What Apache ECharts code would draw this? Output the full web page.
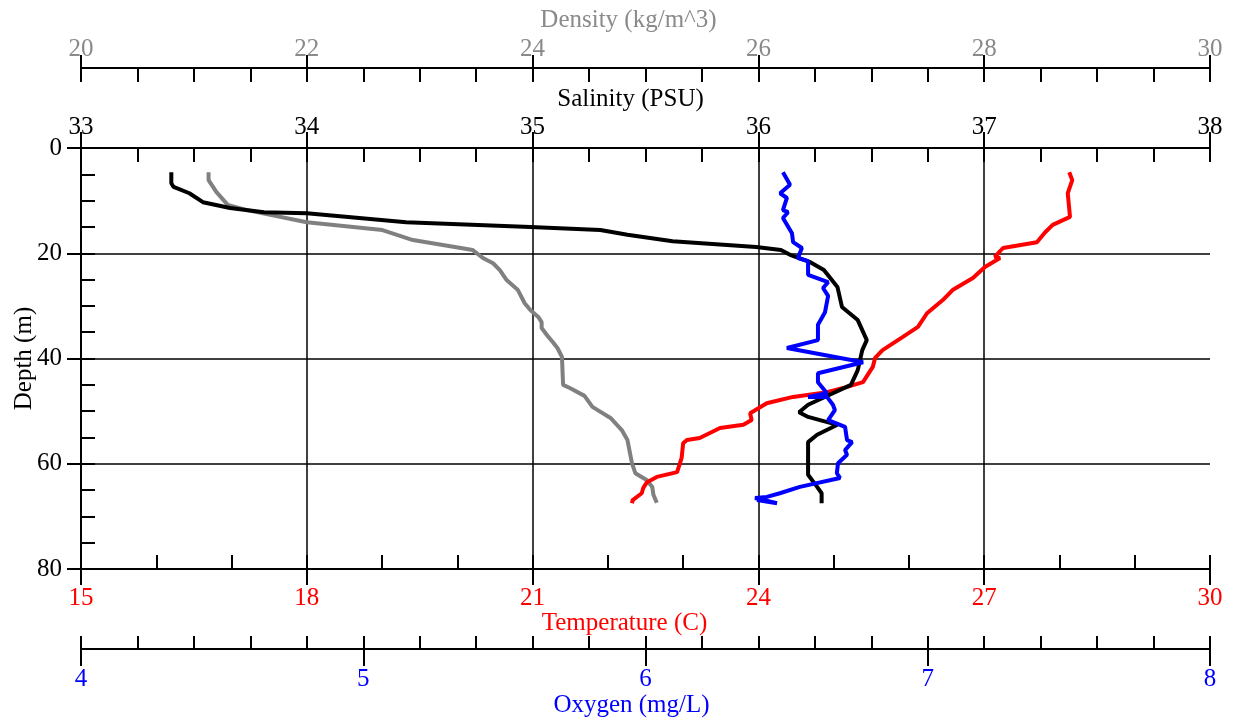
<!DOCTYPE html>
<html>
<head>
<meta charset="utf-8">
<title>CTD profile</title>
<script src="https://cdn.jsdelivr.net/npm/echarts@6/dist/echarts.min.js"></script>
<style>
html, body { margin: 0; padding: 0; background: #fff; }
#charts { width: 1235px; height: 725px; }
</style>
</head>
<body>
<div id="charts"></div>
<script>
// profile values (depth in m)
const salinityDepth = [4.6, 6.7, 7.4, 8.6, 10.3, 11.4, 12.2, 12.4, 14.1, 15.0, 15.6, 16.5, 17.7, 18.8, 19.4, 20.3, 21.7, 23.2, 26.4, 30.2, 32.7, 36.5, 38.4, 42.2, 45.0, 46.6, 48.8, 50.2, 51.1, 52.6, 54.5, 55.9, 59.9, 62.1, 64.4, 65.6, 67.5];
const salinityValues = [33.40, 33.40, 33.41, 33.48, 33.54, 33.66, 33.81, 34.00, 34.44, 34.99, 35.30, 35.42, 35.62, 35.99, 36.10, 36.14, 36.23, 36.29, 36.35, 36.37, 36.44, 36.48, 36.46, 36.44, 36.41, 36.33, 36.22, 36.18, 36.22, 36.35, 36.26, 36.22, 36.22, 36.22, 36.26, 36.28, 36.28];

const densityDepth = [4.6, 6.1, 8.4, 10.8, 11.8, 14.1, 15.6, 17.5, 19.4, 20.9, 21.9, 23.2, 25.1, 27.0, 29.5, 30.8, 32.1, 33.1, 34.2, 35.9, 36.9, 38.0, 39.7, 45.0, 45.6, 47.1, 49.2, 51.3, 53.6, 55.5, 59.9, 61.8, 63.1, 64.4, 65.9, 67.4];
const densityValues = [21.13, 21.13, 21.20, 21.30, 21.47, 22.00, 22.67, 22.94, 23.47, 23.56, 23.65, 23.71, 23.77, 23.87, 23.93, 23.98, 24.05, 24.08, 24.08, 24.14, 24.18, 24.22, 24.26, 24.27, 24.33, 24.46, 24.53, 24.69, 24.79, 24.84, 24.88, 24.91, 25.01, 25.06, 25.07, 25.10];

const temperatureDepth = [4.6, 6.1, 8.6, 13.1, 14.6, 16.0, 17.9, 19.0, 20.7, 20.9, 22.6, 24.7, 27.0, 28.9, 31.4, 34.0, 35.9, 38.4, 39.9, 41.6, 44.5, 45.4, 46.4, 47.3, 48.5, 50.4, 51.7, 52.6, 53.2, 55.1, 55.5, 56.1, 58.9, 61.6, 62.5, 63.5, 64.6, 65.6, 66.9, 67.5];
const temperatureValues = [28.13, 28.17, 28.11, 28.14, 27.91, 27.81, 27.70, 27.25, 27.14, 27.21, 27.01, 26.85, 26.58, 26.45, 26.24, 26.12, 25.92, 25.65, 25.55, 25.52, 25.39, 25.18, 24.91, 24.46, 24.11, 23.89, 23.91, 23.80, 23.49, 23.22, 23.05, 23.00, 22.98, 22.92, 22.65, 22.52, 22.47, 22.45, 22.33, 22.32];

const oxygenDepth = [4.6, 7.0, 8.6, 9.5, 11.8, 12.2, 13.3, 16.2, 17.9, 19.0, 20.9, 21.5, 24.1, 25.5, 26.6, 28.1, 31.2, 33.6, 36.5, 38.0, 40.7, 42.8, 44.5, 46.6, 47.3, 47.3, 48.8, 49.8, 51.7, 53.0, 55.5, 55.9, 57.4, 58.3, 59.9, 61.8, 62.7, 64.4, 65.6, 66.3, 66.5, 67.5, 66.9];
const oxygenValues = [6.487, 6.512, 6.477, 6.501, 6.487, 6.505, 6.487, 6.519, 6.523, 6.554, 6.540, 6.576, 6.576, 6.647, 6.629, 6.647, 6.636, 6.611, 6.611, 6.501, 6.771, 6.611, 6.611, 6.643, 6.576, 6.643, 6.664, 6.671, 6.647, 6.707, 6.714, 6.732, 6.707, 6.714, 6.682, 6.678, 6.689, 6.547, 6.476, 6.430, 6.388, 6.466, 6.395];

const font = 'Liberation Serif';
const fontSize = 25;
const densityGray = '#8a8a8a';

var chartDom = document.getElementById('charts');
var myChart = echarts.init(chartDom);
var option;

const toPairs = (values, depths) => values.map((v, i) => [v, depths[i]]);

// main axis: line, labels, inner ticks, minor ticks
const mainAxis = (cfg) => ({
    type: 'value',
    position: cfg.position,
    offset: cfg.offset,
    min: cfg.min,
    max: cfg.max,
    interval: cfg.interval,
    inverse: cfg.inverse || false,
    name: cfg.name,
    nameLocation: 'middle',
    nameGap: cfg.nameGap,
    nameRotate: cfg.nameRotate,
    nameMoveOverlap: false,
    nameTextStyle: {color: cfg.color, fontSize: fontSize, fontFamily: font, padding: cfg.namePadding || 0},
    axisLine: {show: true, onZero: false, lineStyle: {color: '#000', width: 2}},
    axisTick: {show: true, inside: true, length: cfg.tickLen, lineStyle: {color: '#000', width: 2}},
    minorTick: {show: true, splitNumber: cfg.minorSplit, length: cfg.tickLen, lineStyle: {color: '#000', width: 2}},
    axisLabel: {color: cfg.color, fontSize: fontSize, fontFamily: font, margin: cfg.labelMargin},
    splitLine: {
        show: cfg.grid || false,
        showMinLine: false,
        showMaxLine: false,
        lineStyle: {color: '#000', width: 1.5}
    },
    axisPointer: {show: false}
});

// companion axis: only the outer major ticks
const outerTicks = (cfg) => ({
    type: 'value',
    position: cfg.position,
    offset: cfg.offset,
    min: cfg.min,
    max: cfg.max,
    interval: cfg.interval,
    inverse: cfg.inverse || false,
    axisLine: {show: false, onZero: false},
    axisTick: {show: true, inside: false, length: cfg.outLen, lineStyle: {color: '#000', width: 2}},
    axisLabel: {show: false},
    splitLine: {show: false},
    axisPointer: {show: false}
});

const salinityAxis = {position: 'top', offset: 0, min: 33, max: 38, interval: 1, minorSplit: 4, tickLen: 14, outLen: 16,
    name: 'Salinity (PSU)', nameGap: 36, namePadding: [0, 30, 0, 0], color: '#000', labelMargin: 8, grid: true};
const densityAxis = {position: 'top', offset: 80, min: 20, max: 30, interval: 2, minorSplit: 4, tickLen: 14, outLen: 13,
    name: 'Density (kg/m^3)', nameGap: 35, namePadding: [0, 34, 0, 0], color: densityGray, labelMargin: 6};
const temperatureAxis = {position: 'bottom', offset: 0, min: 15, max: 30, interval: 3, minorSplit: 3, tickLen: 14, outLen: 16,
    name: 'Temperature (C)', nameGap: 42, namePadding: [0, 42, 0, 0], color: '#ff0000', labelMargin: 17};
const oxygenAxis = {position: 'bottom', offset: 80, min: 4, max: 8, interval: 1, minorSplit: 5, tickLen: 13, outLen: 17,
    name: 'Oxygen (mg/L)', nameGap: 44, namePadding: [0, 28, 0, 0], color: '#0000ff', labelMargin: 18};
const depthAxis = {position: 'left', offset: 0, min: 0, max: 80, interval: 20, minorSplit: 4, tickLen: 14, outLen: 14, inverse: true,
    name: 'Depth (m)', nameGap: 44, nameRotate: 90, color: '#000', labelMargin: 19, grid: true};

option = {
    animation: false,
    backgroundColor: '#fff',
    grid: {left: 81, right: 25, top: 148, bottom: 156, containLabel: false, outerBoundsMode: 'none'},
    xAxis: [
        mainAxis(salinityAxis), outerTicks(salinityAxis),
        mainAxis(densityAxis), outerTicks(densityAxis),
        mainAxis(temperatureAxis), outerTicks(temperatureAxis),
        mainAxis(oxygenAxis), outerTicks(oxygenAxis)
    ],
    yAxis: [mainAxis(depthAxis), outerTicks(depthAxis)],
    series: [
        {name: 'Density', type: 'line', xAxisIndex: 2, yAxisIndex: 0, data: toPairs(densityValues, densityDepth),
            showSymbol: false, lineStyle: {color: '#808080', width: 4}, itemStyle: {color: '#808080'}},
        {name: 'Temperature', type: 'line', xAxisIndex: 4, yAxisIndex: 0, data: toPairs(temperatureValues, temperatureDepth),
            showSymbol: false, lineStyle: {color: '#ff0000', width: 4}, itemStyle: {color: '#ff0000'}},
        {name: 'Salinity', type: 'line', xAxisIndex: 0, yAxisIndex: 0, data: toPairs(salinityValues, salinityDepth),
            showSymbol: false, lineStyle: {color: '#000', width: 4}, itemStyle: {color: '#000'}},
        {name: 'Oxygen', type: 'line', xAxisIndex: 6, yAxisIndex: 0, data: toPairs(oxygenValues, oxygenDepth),
            showSymbol: false, lineStyle: {color: '#0000ff', width: 4}, itemStyle: {color: '#0000ff'}}
    ]
};

myChart.setOption(option);
</script>
</body>
</html>
